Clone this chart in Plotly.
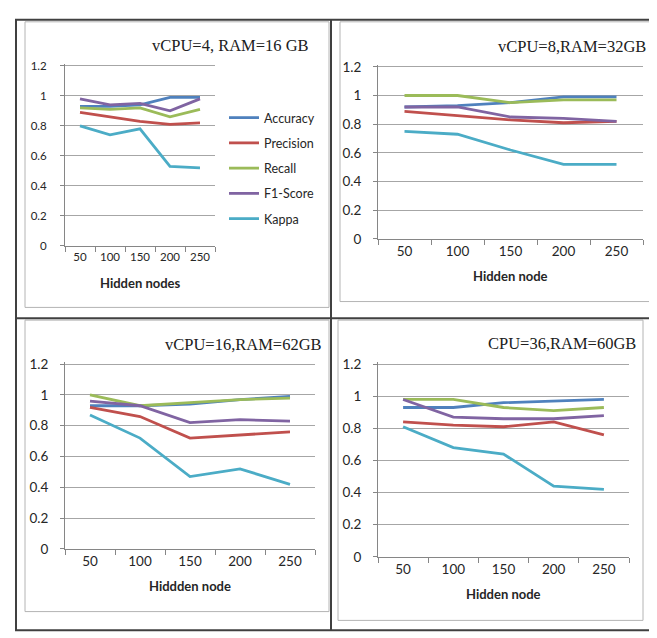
import plotly.graph_objects as go

# ---------------- data ----------------
hidden_nodes = ["50", "100", "150", "200", "250"]
metric_names = ["Accuracy", "Precision", "Recall", "F1-Score", "Kappa"]
metric_colors = ["#4F81BD", "#C0504D", "#9BBB59", "#8064A2", "#4BACC6"]

panel_titles = ["vCPU=4, RAM=16 GB", "vCPU=8,RAM=32GB", "vCPU=16,RAM=62GB", "CPU=36,RAM=60GB"]
x_titles = ["Hidden nodes", "Hidden node", "Hiddden node", "Hidden node"]

p1_accuracy = [0.93, 0.93, 0.94, 0.99, 0.99]
p1_precision = [0.89, 0.86, 0.83, 0.81, 0.82]
p1_recall = [0.92, 0.91, 0.92, 0.86, 0.91]
p1_f1 = [0.98, 0.94, 0.95, 0.90, 0.98]
p1_kappa = [0.80, 0.74, 0.78, 0.53, 0.52]

p2_accuracy = [0.92, 0.93, 0.95, 0.99, 0.99]
p2_precision = [0.89, 0.86, 0.83, 0.81, 0.82]
p2_recall = [1.00, 1.00, 0.95, 0.97, 0.97]
p2_f1 = [0.92, 0.92, 0.85, 0.84, 0.82]
p2_kappa = [0.75, 0.73, 0.62, 0.52, 0.52]

p3_accuracy = [0.93, 0.93, 0.94, 0.97, 0.99]
p3_precision = [0.92, 0.86, 0.72, 0.74, 0.76]
p3_recall = [1.00, 0.93, 0.95, 0.97, 0.98]
p3_f1 = [0.96, 0.93, 0.82, 0.84, 0.83]
p3_kappa = [0.87, 0.72, 0.47, 0.52, 0.42]

p4_accuracy = [0.93, 0.93, 0.96, 0.97, 0.98]
p4_precision = [0.84, 0.82, 0.81, 0.84, 0.76]
p4_recall = [0.98, 0.98, 0.93, 0.91, 0.93]
p4_f1 = [0.98, 0.87, 0.86, 0.86, 0.88]
p4_kappa = [0.81, 0.68, 0.64, 0.44, 0.42]

y_ticks = [0, 0.2, 0.4, 0.6, 0.8, 1.0, 1.2]

panels = [
    [p1_accuracy, p1_precision, p1_recall, p1_f1, p1_kappa],
    [p2_accuracy, p2_precision, p2_recall, p2_f1, p2_kappa],
    [p3_accuracy, p3_precision, p3_recall, p3_f1, p3_kappa],
    [p4_accuracy, p4_precision, p4_recall, p4_f1, p4_kappa],
]

# ---------------- layout geometry (pixels) ----------------
W, H = 657, 638
def fx(p):
    return p / W
def fy(p):
    return 1 - p / H

# plot areas: x0, x1, ytop, ybottom
plot_rects = [
    (57, 207, 53, 237),
    (370, 635, 54, 230),
    (57, 307, 358, 547),
    (370, 621, 358, 555),
]
title_pos = [(303, 32), (640, 33), (316, 338), (630, 337)]
tick_sizes = [11.5, 13.5, 13.5, 13.5]
label_standoff = [11, 9, 9, 9]

AXIS_COLOR = "#868686"
GRID_COLOR = "#a6a6a6"
Y_TOP = 1.2
PAD_PX = 2

fig = go.Figure()
layout = dict(
    width=W, height=H,
    margin=dict(l=0, r=0, t=0, b=0),
    paper_bgcolor="white", plot_bgcolor="white",
    showlegend=True,
)

annotations = []
for i, (series, rect) in enumerate(zip(panels, plot_rects)):
    n = "" if i == 0 else str(i + 1)
    x0, x1, yt, yb = rect
    tick_font = dict(family="Lato, Open Sans, sans-serif", size=tick_sizes[i], color="#262626")
    for name, color, vals in zip(metric_names, metric_colors, series):
        fig.add_trace(go.Scatter(
            x=hidden_nodes, y=vals, mode="lines", name=name,
            line=dict(color=color, width=2.8),
            xaxis="x" + n, yaxis="y" + n,
            showlegend=(i == 0), legendgroup=name,
        ))
    layout["xaxis" + n] = dict(
        domain=[fx(x0), fx(x1)], anchor="y" + n,
        type="category", range=[-0.5, 4.5], tickangle=0,
        showline=True, linecolor=AXIS_COLOR, linewidth=1,
        ticks="outside", ticklen=5, tickcolor=AXIS_COLOR, tickson="boundaries",
        showgrid=False, zeroline=False, tickfont=tick_font, fixedrange=True,
    )
    y_hi = Y_TOP * (yb - yt + PAD_PX) / (yb - yt)
    layout["yaxis" + n] = dict(
        domain=[fy(yb), fy(yt - PAD_PX)], anchor="x" + n,
        range=[0, y_hi], tickvals=y_ticks,
        showline=True, linecolor=AXIS_COLOR, linewidth=1,
        ticks="outside", ticklen=4, tickcolor=AXIS_COLOR,
        showgrid=True, gridcolor=GRID_COLOR, gridwidth=1,
        zeroline=False, tickfont=tick_font, fixedrange=True,
        ticklabelstandoff=label_standoff[i],
    )
    tx, ty = title_pos[i]
    annotations.append(dict(
        text=panel_titles[i], xref="paper", yref="paper",
        x=fx(tx), y=fy(ty), xanchor="right", yanchor="middle", showarrow=False,
        font=dict(family="Liberation Serif, Times New Roman, serif", size=16.5, color="#202020"),
    ))
    annotations.append(dict(
        text="<b>" + x_titles[i] + "</b>", xref="paper", yref="paper",
        x=fx((x0 + x1) / 2), y=fy(yb + 38), xanchor="center", yanchor="middle", showarrow=False,
        font=dict(family="Lato, Open Sans, sans-serif", size=13, color="#262626"),
    ))

layout["annotations"] = annotations
layout["legend"] = dict(
    x=fx(216), y=fy(91), xanchor="left", yanchor="top",
    font=dict(family="Lato, Open Sans, sans-serif", size=12.5, color="#262626"),
    bgcolor="rgba(0,0,0,0)", tracegroupgap=6, itemwidth=30,
)

# frames
shapes = []
def rect(xa, ya, xb, yb, color, width):
    shapes.append(dict(type="rect", xref="paper", yref="paper",
                       x0=fx(xa), x1=fx(xb), y0=fy(yb), y1=fy(ya),
                       line=dict(color=color, width=width), fillcolor="rgba(0,0,0,0)", layer="below"))
def line(xa, ya, xb, yb, color, width):
    shapes.append(dict(type="line", xref="paper", yref="paper",
                       x0=fx(xa), x1=fx(xb), y0=fy(ya), y1=fy(yb),
                       line=dict(color=color, width=width), layer="below"))

INNER = "#b4b4b4"
rect(17, 8, 321, 300, INNER, 1)
rect(332, 8, 648, 294, INNER, 1)
rect(17, 313, 321, 611, INNER, 1)
rect(330, 313, 635, 620, INNER, 1)
OUTER = "#404040"
rect(8, 6, 650, 630, OUTER, 2)
line(323, 6, 323, 630, OUTER, 2)
line(8, 311, 650, 311, OUTER, 2)
layout["shapes"] = shapes

fig.update_layout(**layout)
fig.write_html("out.html")
